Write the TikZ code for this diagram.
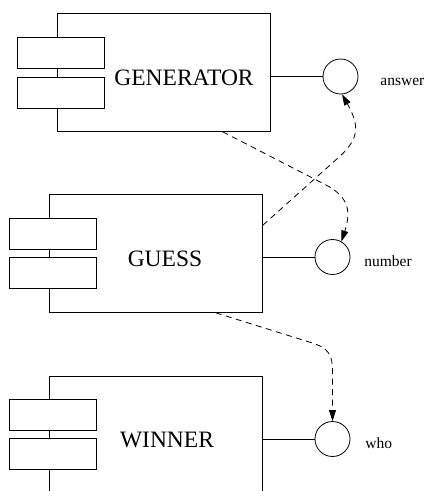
\documentclass[tikz,border=0pt]{standalone}
\usepackage{fontspec}
\setmainfont{Liberation Serif}
\usetikzlibrary{arrows.meta, calc}

\begin{document}
\begin{tikzpicture}[x=1pt, y=-1pt, line width=0.8pt,
		unit/.style={draw, rectangle, minimum width=213pt, minimum height=118pt, inner sep=0pt, anchor=north west},
		tab/.style={draw, fill=white, rectangle, minimum width=87pt, minimum height=31pt, inner sep=0pt, anchor=north west},
		port/.style={draw, circle, minimum size=35pt, inner sep=0pt},
		uname/.style={font=\fontsize{23.5}{23.5}\selectfont, anchor=base, inner sep=0pt},
		pname/.style={font=\fontsize{15.5}{15.5}\selectfont, anchor=base west, inner sep=0pt},
		flow/.style={dash pattern=on 6pt off 4.5pt, -{Triangle[length=11pt, width=7pt]}}]
	\useasboundingbox (0,0) rectangle (426,491);
	
	% Units with their two tabs on the left edge
	\node[unit] (gen) at (57,13) {};
	\node[tab] (gen-a) at (17,37) {};
	\node[tab] (gen-b) at (17,77) {};
	
	\node[unit] (guess) at (49,194) {};
	\node[tab] (guess-a) at (9,218) {};
	\node[tab] (guess-b) at (9,257) {};
	
	\node[unit] (win) at (49,376) {};
	\node[tab] (win-a) at (9,399) {};
	\node[tab] (win-b) at (9,438) {};
	
	\node[uname] at (184,85.7) {GENERATOR};
	\node[uname] at (165,266) {GUESS};
	\node[uname] at (167,447) {WINNER};
	
	% Ports
	\node[port] (ans) at (340.5,76.5) {};
	\node[port] (num) at (332.5,257) {};
	\node[port] (who) at (332.5,439) {};
	
	\draw (ans.west -| gen.east) -- (ans.west);
	\draw (num.west -| guess.east) -- (num.west);
	\draw (who.west -| win.east) -- (who.west);
	
	\node[pname] at (380,85) {answer};
	\node[pname] at (364,266.5) {number};
	\node[pname] at (365,448) {who};
	
	% Data flows
	\draw[flow] ($(gen.south west)!0.775!(gen.south east)$) -- ++(103,53)
		.. controls +(25,13) and +(9,-28) .. (num.60);
	\draw[flow] ($(guess.north east)!0.263!(guess.south east)$) -- ++(76,-68)
		.. controls +(20,-18) and +(18,32) .. (ans.-85);
	\draw[flow] ($(guess.south west)!0.78!(guess.south east)$) -- ++(96,30)
		.. controls +(17,5.3) and +(0,-16) .. ($(who.north)+(0,-50)$) -- (who.north);
	
\end{tikzpicture}
\end{document}
